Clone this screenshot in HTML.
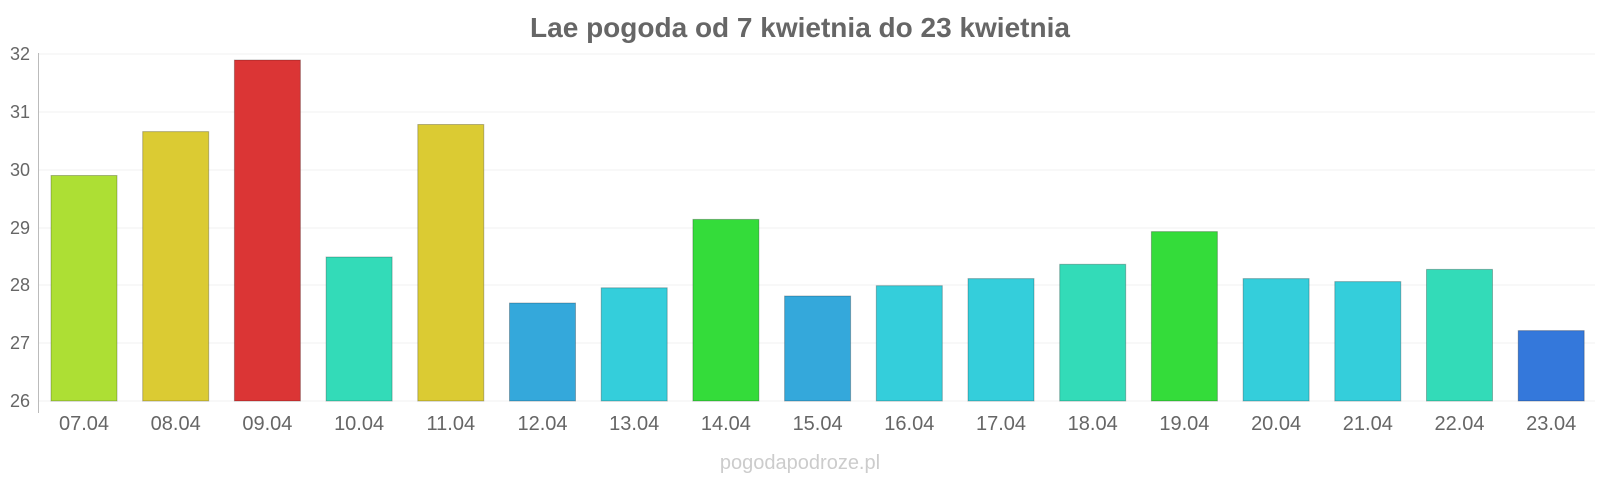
<!DOCTYPE html><html><head><style>body{margin:0;background:#fff}svg{display:block}</style></head><body>
<svg width="1600" height="480" xmlns="http://www.w3.org/2000/svg" font-family="Liberation Sans, sans-serif">
<text x="800" y="37" text-anchor="middle" font-size="28" font-weight="bold" fill="#666">Lae pogoda od 7 kwietnia do 23 kwietnia</text>
<g stroke="#f2f2f2" stroke-width="1">
<line x1="38" x2="1595" y1="54" y2="54"/><line x1="38" x2="1595" y1="112" y2="112"/><line x1="38" x2="1595" y1="170" y2="170"/><line x1="38" x2="1595" y1="228" y2="228"/><line x1="38" x2="1595" y1="285" y2="285"/><line x1="38" x2="1595" y1="343" y2="343"/><line x1="38" x2="1595" y1="401" y2="401"/></g>
<line x1="38.5" x2="38.5" y1="53" y2="413" stroke="#bbb"/>
<g font-size="18" fill="#666" text-anchor="end">
<text x="30" y="60">32</text><text x="30" y="118">31</text><text x="30" y="176">30</text><text x="30" y="234">29</text><text x="30" y="291">28</text><text x="30" y="349">27</text><text x="30" y="407">26</text></g>
<g stroke-width="1" stroke-opacity="0.25" stroke="#000">
<rect x="51" y="175.5" width="66" height="225.5" fill="#addf34"/>
<rect x="142.7" y="131.6" width="66" height="269.4" fill="#dbcb33"/>
<rect x="234.4" y="60" width="66" height="341" fill="#db3535"/>
<rect x="326.1" y="257" width="66" height="144" fill="#33dbb8"/>
<rect x="417.8" y="124.5" width="66" height="276.5" fill="#dbcb33"/>
<rect x="509.5" y="303" width="66" height="98" fill="#34a8db"/>
<rect x="601.2" y="287.8" width="66" height="113.2" fill="#34cedb"/>
<rect x="692.9" y="219.4" width="66" height="181.6" fill="#34dc3a"/>
<rect x="784.6" y="296" width="66" height="105" fill="#34a8db"/>
<rect x="876.3" y="285.7" width="66" height="115.3" fill="#34cedb"/>
<rect x="968" y="278.6" width="66" height="122.4" fill="#34cedb"/>
<rect x="1059.7" y="264.3" width="66" height="136.7" fill="#33dbb8"/>
<rect x="1151.4" y="231.6" width="66" height="169.4" fill="#34dc3a"/>
<rect x="1243.1" y="278.6" width="66" height="122.4" fill="#34cedb"/>
<rect x="1334.8" y="281.6" width="66" height="119.4" fill="#34cedb"/>
<rect x="1426.5" y="269.4" width="66" height="131.6" fill="#33dbb8"/>
<rect x="1518.2" y="330.6" width="66" height="70.4" fill="#3478db"/>
</g>
<g font-size="20" fill="#666" text-anchor="middle">
<text x="84" y="430">07.04</text><text x="175.7" y="430">08.04</text><text x="267.4" y="430">09.04</text><text x="359.1" y="430">10.04</text><text x="450.8" y="430">11.04</text><text x="542.5" y="430">12.04</text><text x="634.2" y="430">13.04</text><text x="725.9" y="430">14.04</text><text x="817.6" y="430">15.04</text><text x="909.3" y="430">16.04</text><text x="1001" y="430">17.04</text><text x="1092.7" y="430">18.04</text><text x="1184.4" y="430">19.04</text><text x="1276.1" y="430">20.04</text><text x="1367.8" y="430">21.04</text><text x="1459.5" y="430">22.04</text><text x="1551.2" y="430">23.04</text></g>
<text x="800" y="469" text-anchor="middle" font-size="20" fill="#ccc">pogodapodroze.pl</text>
</svg></body></html>
